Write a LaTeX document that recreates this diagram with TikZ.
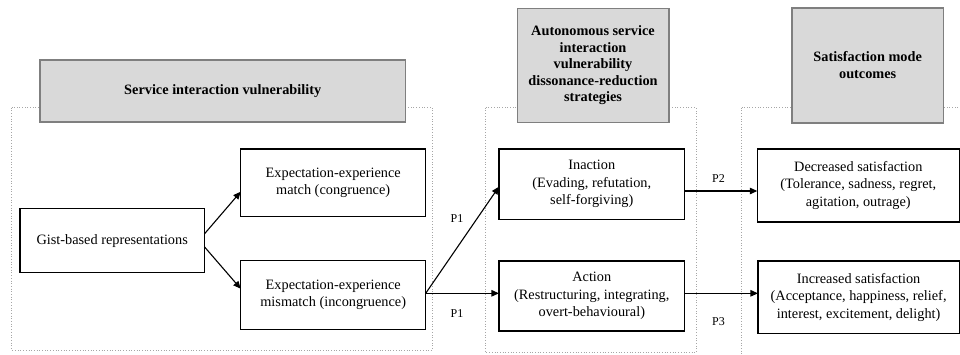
\documentclass[tikz,border=0pt]{standalone}
\usepackage{fontspec}
\setmainfont{Liberation Serif}
\usetikzlibrary{arrows.meta,calc}

\definecolor{headfill}{HTML}{D9D9D9}
\definecolor{headline}{HTML}{7F7F7F}
\definecolor{groupline}{HTML}{A6A6A6}

\begin{document}
\begin{tikzpicture}[x=1pt,y=-1pt,
  boxtext/.style={font=\fontsize{14.3}{17.6}\selectfont},
  itembox/.style={draw=black, line width=1.3pt, fill=white, align=center,
    inner sep=0pt, outer sep=0pt, boxtext},
  headbox/.style={draw=headline, line width=1.6pt, fill=headfill, align=center,
    inner sep=0pt, outer sep=0pt,
    font=\bfseries\fontsize{14.3}{16.6}\selectfont},
  groupframe/.style={draw=groupline, line width=0.7pt, dotted},
  link/.style={-{Triangle[length=7.5pt,width=6.5pt]}, line width=1.1pt},
  plabel/.style={font=\fontsize{12}{14}\selectfont, inner sep=0pt}
]
\clip (0,0) rectangle (960,354);

% dotted group frames
\draw[groupframe] (11.7,107.7) rectangle (432.3,350);
\draw[groupframe] (485.7,107.7) rectangle (696,352.7);
\draw[groupframe] (741.7,107.7) rectangle (975,370);

% group headers
\node[headbox, minimum width=365.3pt, minimum height=62pt] (h1) at (222.7,91)
  {Service interaction vulnerability};
\node[headbox, minimum width=151.4pt, minimum height=114pt] (h2) at (593,65.3)
  {Autonomous service\\interaction\\vulnerability\\dissonance-reduction\\strategies};
\node[headbox, minimum width=151.3pt, minimum height=115pt] (h3) at (867.7,65.2)
  {Satisfaction mode\\outcomes};

% first group
\node[itembox, minimum width=184.3pt, minimum height=64pt] (gist) at (112.2,240.7)
  {Gist-based representations};
\node[itembox, minimum width=185pt, minimum height=67.7pt] (match) at (333.2,182.8)
  {Expectation-experience\\match (congruence)};
\node[itembox, minimum width=185pt, minimum height=68.6pt] (mismatch) at (333.2,295)
  {Expectation-experience\\mismatch (incongruence)};

% second group
\node[itembox, minimum width=185.7pt, minimum height=70.3pt] (inaction) at (591.8,184.2)
  {Inaction\\(Evading, refutation,\\self-forgiving)};
\node[itembox, minimum width=185.7pt, minimum height=70pt] (action) at (591.8,296)
  {Action\\(Restructuring, integrating,\\overt-behavioural)};

% third group
\node[itembox, minimum width=202pt, minimum height=73pt] (decreased) at (858.3,185.5)
  {Decreased satisfaction\\(Tolerance, sadness, regret,\\agitation, outrage)};
\node[itembox, minimum width=201.3pt, minimum height=72.3pt] (increased) at (858.6,297.2)
  {Increased satisfaction\\(Acceptance, happiness, relief,\\interest, excitement, delight)};

% connectors
\draw[link] ($(gist.east)+(0,-6.7)$) -- ($(match.west)+(0,8.9)$);
\draw[link] ($(gist.east)+(0,6)$) -- ($(mismatch.west)+(0,-6.3)$);
\draw[link] ($(mismatch.east)+(0,-1.7)$) -- ($(inaction.west)+(0,2.5)$);
\draw[link] ($(mismatch.east)+(0,-1.7)$) -- ($(action.west)+(0,-2.7)$);
\draw[link] ($(inaction.east)+(0,6.8)$) -- ($(decreased.west)+(0,5.5)$);
\draw[link] ($(action.east)+(0,-2.7)$) -- ($(increased.west)+(0,-3.9)$);

% proposition labels
\node[plabel] (p1a) at (457,218.3) {P1};
\node[plabel] (p1b) at (457,313.3) {P1};
\node[plabel] (p2) at (718.5,178.3) {P2};
\node[plabel] (p3) at (718.5,321.7) {P3};
\end{tikzpicture}
\end{document}
